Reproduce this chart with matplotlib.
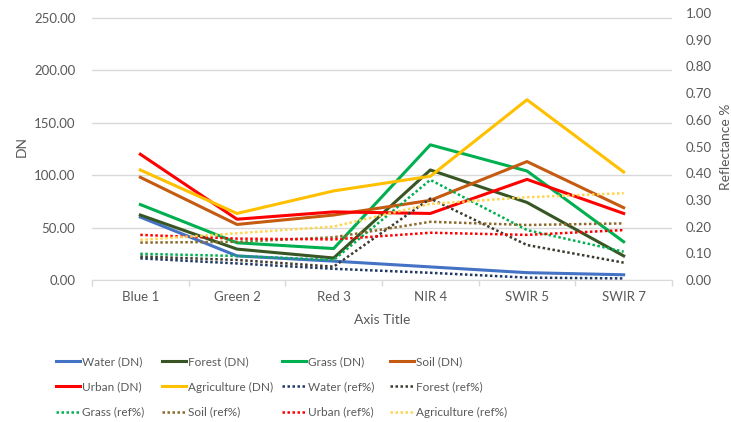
import matplotlib
matplotlib.use("Agg")
import matplotlib.pyplot as plt

plt.rcParams['font.family'] = ['Lato', 'DejaVu Sans']

bands = ["Blue 1", "Green 2", "Red 3", "NIR 4", "SWIR 5", "SWIR 7"]

# DN values (left axis)
water_dn = [60, 23, 18, 12.5, 7, 5]
forest_dn = [62, 29.5, 21, 105, 74, 23]
grass_dn = [72, 35.5, 30, 129, 104, 36.5]
soil_dn = [98, 53, 62, 76, 113, 69]
urban_dn = [120, 58, 65, 63.5, 96, 63.5]
agri_dn = [105, 63.5, 85, 99, 172, 103]

# reflectance values (right axis)
water_ref = [0.081, 0.062, 0.042, 0.027, 0.009, 0.006]
forest_ref = [0.088, 0.075, 0.05, 0.305, 0.131, 0.065]
grass_ref = [0.098, 0.09, 0.075, 0.375, 0.187, 0.106]
soil_ref = [0.14, 0.143, 0.16, 0.218, 0.206, 0.212]
urban_ref = [0.169, 0.155, 0.152, 0.177, 0.169, 0.187]
agri_ref = [0.15, 0.175, 0.2, 0.285, 0.31, 0.325]

dn_series = [("Water (DN)", water_dn, "#4472C4"),
             ("Forest (DN)", forest_dn, "#375623"),
             ("Grass (DN)", grass_dn, "#00B050"),
             ("Soil (DN)", soil_dn, "#C55A11"),
             ("Urban (DN)", urban_dn, "#FF0000"),
             ("Agriculture (DN)", agri_dn, "#FFC000")]
ref_series = [("Water (ref%)", water_ref, "#203864"),
              ("Forest (ref%)", forest_ref, "#3B3B2F"),
              ("Grass (ref%)", grass_ref, "#00B050"),
              ("Soil (ref%)", soil_ref, "#8C6A2A"),
              ("Urban (ref%)", urban_ref, "#FF0000"),
              ("Agriculture (ref%)", agri_ref, "#FFD54F")]

txt = "#595959"
grid = "#D9D9D9"

fig = plt.figure(figsize=(7.31, 4.22), dpi=100)
ax = fig.add_axes([92 / 731, 1 - 280 / 422, (672 - 92) / 731, 267 / 422])
ax2 = ax.twinx()

x = list(range(len(bands)))
handles = []
for name, vals, col in dn_series:
    h, = ax.plot(x, vals, color=col, lw=2.2, label=name)
    handles.append(h)
for name, vals, col in ref_series:
    h, = ax2.plot(x, vals, color=col, lw=1.8, linestyle=(0, (1, 1.0)),
                  dash_capstyle='butt', label=name)
    handles.append(h)

ax.set_xlim(-0.5, len(bands) - 0.5)
ax.set_ylim(0, 250 * 267 / 262)
ax2.set_ylim(0, 1.0)
ax.set_yticks([0, 50, 100, 150, 200, 250])
ax.set_yticklabels([f"{v:.2f}" for v in [0, 50, 100, 150, 200, 250]])
ax2.set_yticks([i / 10 for i in range(11)])
ax2.set_yticklabels([f"{i / 10:.2f}" for i in range(11)])
ax.set_xticks(x)
ax.set_xticklabels(bands)
ax.set_xticks([i - 0.5 for i in range(len(bands) + 1)], minor=True)

ax.grid(axis='y', color=grid, lw=1)
ax.set_axisbelow(True)
for a in (ax, ax2):
    for s in a.spines.values():
        s.set_visible(False)
ax.spines['bottom'].set_visible(True)
ax.spines['bottom'].set_color(grid)
ax.tick_params(axis='x', which='major', length=0, pad=8, labelsize=9.5, labelcolor=txt)
ax.tick_params(axis='x', which='minor', length=4, color=grid, width=1)
ax.tick_params(axis='y', length=0, pad=12, labelsize=9.5, labelcolor=txt)
ax2.tick_params(axis='y', length=0, pad=10, labelsize=9.5, labelcolor=txt)

ax.set_ylabel("DN", fontsize=10, color=txt)
ax.yaxis.set_label_coords((28 - 92) / 580, 0.5)
ax2.set_ylabel("Reflectance %", fontsize=10, color=txt, labelpad=6)
ax.set_xlabel("Axis Title", fontsize=10, color=txt, labelpad=8)

# one legend per column so the columns are evenly spaced like the original
col_x = [56, 162, 282, 390]
for c in range(4):
    hs = [handles[r * 4 + c] for r in range(3)]
    fig.legend(hs, [h.get_label() for h in hs], loc='center left',
               bbox_to_anchor=(col_x[c] / 731, 1 - 387 / 422), frameon=False,
               fontsize=8.5, labelcolor=txt, handlelength=2.0, handletextpad=0.2,
               labelspacing=1.2, borderpad=0, borderaxespad=0)

fig.savefig("out.png", dpi=100)
